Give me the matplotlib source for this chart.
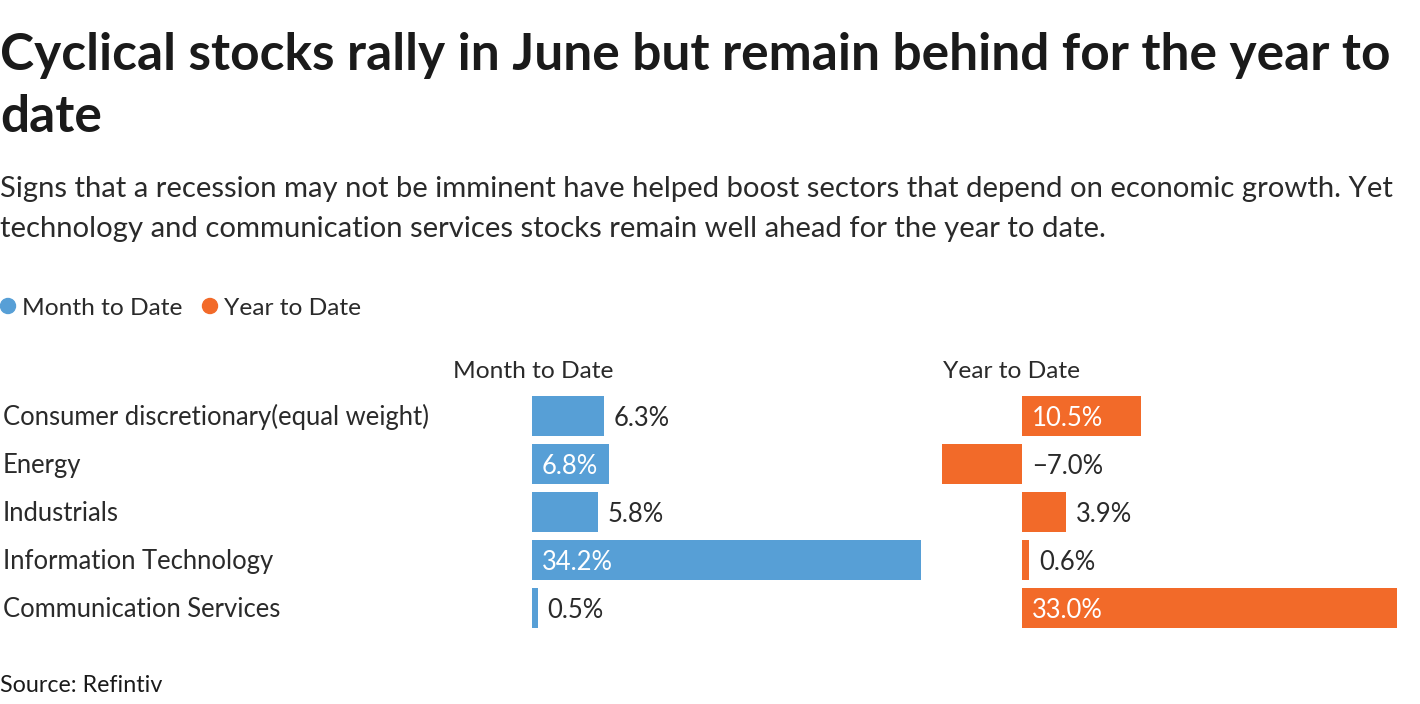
import matplotlib
matplotlib.use("Agg")
import matplotlib.pyplot as plt
from matplotlib.patches import Ellipse

# ---- data ----
categories = ["Consumer discretionary(equal weight)", "Energy", "Industrials",
              "Information Technology", "Communication Services"]
month_to_date = [6.3, 6.8, 5.8, 34.2, 0.5]
year_to_date = [10.5, -7.0, 3.9, 0.6, 33.0]
series_names = ["Month to Date", "Year to Date"]
colors = ["#579fd6", "#f26a29"]

title_lines = ["Cyclical stocks rally in June but remain behind for the year to", "date"]
subtitle_lines = ["Signs that a recession may not be imminent have helped boost sectors that depend on economic growth. Yet",
                  "technology and communication services stocks remain well ahead for the year to date."]
source = "Source: Refintiv"

W, H = 1420, 704
fig = plt.figure(figsize=(W / 100, H / 100), dpi=100)
fig.patch.set_facecolor("white")
renderer = fig.canvas.get_renderer()

FONT = "Lato"
TXT = "#2a2a2a"
LW = "normal"


def px(x, y):
    return x / W, 1 - y / H


def ftext(x, y, s, target_w=None, size=18, **kw):
    kw.setdefault("family", FONT)
    kw.setdefault("color", TXT)
    kw.setdefault("va", "baseline")
    t = fig.text(*px(x, y), s, fontsize=size, **kw)
    if target_w:
        w = t.get_window_extent(renderer).width
        t.set_fontsize(size * target_w / w)
    return t


def fitted_size(s, target_w, **kw):
    probe = ftext(0, 0, s, target_w=target_w, size=17, **kw)
    size = probe.get_fontsize()
    probe.remove()
    return size


# title
t1 = ftext(0, 70, title_lines[0], target_w=1390, size=34, weight="bold", color="#1a1a1a")
ftext(0, 132, title_lines[1], size=t1.get_fontsize(), weight="bold", color="#1a1a1a")
# subtitle
st = ftext(0, 197, subtitle_lines[0], target_w=1396, size=19, weight=LW)
ftext(0, 237, subtitle_lines[1], size=st.get_fontsize(), weight=LW)

cat_size = fitted_size(categories[0], 425, weight=LW)
head_size = fitted_size(series_names[0], 160, weight=LW)
val_size = cat_size

# legend
ftext(22, 315, series_names[0], size=head_size, weight=LW)
ftext(224, 315, series_names[1], size=head_size, weight=LW)
for cx, c in [(8, colors[0]), (210, colors[1])]:
    fig.patches.append(Ellipse(px(cx, 306), 15 / W, 15 / H, transform=fig.transFigure,
                               color=c, figure=fig))

# panels
scale = 11.37  # pixels per percentage point
row_top, row_step = 392, 48
n = len(categories)
lo = min(min(month_to_date), min(year_to_date))


def panel(zero_x, values, color, header):
    hi = max(values)
    left_px = zero_x + lo * scale
    right_px = zero_x + hi * scale
    bottom_px = row_top + n * row_step
    ax = fig.add_axes([left_px / W, 1 - bottom_px / H, (right_px - left_px) / W,
                       n * row_step / H])
    ax.set_xlim(lo, hi)
    ax.set_ylim(n - 0.5, -0.5)
    ax.axis("off")
    ax.barh(range(n), values, height=40 / 48, color=color, linewidth=0)
    for i, v in enumerate(values):
        label = f"{v:.1f}%".replace("-", "\u2212")
        t = ax.text(0, i, label, fontsize=val_size, family=FONT,
                    weight=LW, va="center_baseline")
        tw = t.get_window_extent(renderer).width
        bar_w = abs(v) * scale
        if v > 0 and bar_w > tw + 16:
            t.set_color("white")
            t.set_position((10 / scale, i))
        else:
            t.set_color(TXT)
            t.set_position((max(v, 0) + 10 / scale, i))
    ftext(left_px + 1, 378, header, size=head_size, weight=LW)
    return ax


panel(532, month_to_date, colors[0], series_names[0])
panel(1022, year_to_date, colors[1], series_names[1])

# category labels
for i, c in enumerate(categories):
    ftext(3, row_top + row_step * i + 33, c, size=cat_size, weight=LW)

ftext(0, 692, source, size=head_size * 0.95, color="#1a1a1a", weight=LW)

fig.savefig("out.png", dpi=100, facecolor="white")
